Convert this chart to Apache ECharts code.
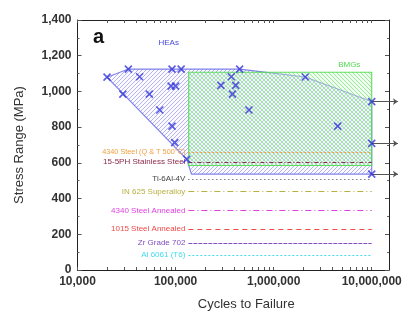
<!DOCTYPE html>
<html><head><meta charset="utf-8">
<script src="https://cdn.jsdelivr.net/npm/echarts@6/dist/echarts.min.js"></script>
<style>html,body{margin:0;padding:0;background:#fff}#c{width:411px;height:320px}</style>
</head><body><div id="c"></div>
<script>
// ---- data ----
const heaPoints = [
  [2.0e4,1080],[2.9e4,985],[3.3e4,1125],[4.3e4,1082],[5.4e4,985],[6.9e4,896],
  [9.2e4,1125],[1.14e5,1125],[9.0e4,1030],[1.0e5,1030],[9.2e4,806],[9.8e4,713],
  [1.3e5,620],[2.9e5,1034],[3.7e5,1082],[4.1e5,1034],[3.8e5,985],[4.5e5,1125],
  [5.6e5,896],[2.1e6,1081],[4.5e6,806],[1.0e7,943],[1.0e7,709],[1.0e7,537]
];
const heaRegion = [
  [2.0e4,1080],[3.3e4,1125],[4.5e5,1125],[2.1e6,1081],[1.0e7,943],
  [1.0e7,537],[1.45e5,537],[1.3e5,620]
];
const bmgRegion = [[1.36e5,585],[1.0e7,585],[1.0e7,1107],[1.36e5,1107]];
const runoutStress = [943,709,537];
const runoutFrom = 1.0e7;
const runoutTo = 1.85e7;
const heaLabel = ['HEAs', 8.5e4, 1275];
const bmgLabel = ['BMGs', 5.9e6, 1150];

const materialNames = [
  '4340 Steel (Q & T 500°C)','15-5PH Stainless Steel','Ti-6Al-4V','IN 625 Superalloy',
  '4340 Steel Annealed','1015 Steel Annealed','Zr Grade 702','Al 6061 (T6)'
];
const materialStress = [659,606,508,439,333,228,150,84];
const materialStart = [1.35e5,1.35e5,1.35e5,1.35e5,1.35e5,1.35e5,1.35e5,1.35e5];
const materialEnd = 1.0e7;
const materialColors = ['#f0a040','#8a2848','#444444','#b8b040','#e040e0','#f04848','#8050c0','#40dcef'];
const materialDash = [[2,2],[4,2,1,2],[1,3],[6,3,1,3],[6,3,1,3],[5,4],[4,1],[2,2]];

// tick values for the log axis (decades and their 2..9 multiples)
const decades = [1e4, 1e5, 1e6, 1e7];
const multiples = [1,2,3,4,5,6,7,8,9];

// ---- patterns ----
function hatch(stroke, bg, dir) {
  const s = 4, c = document.createElement('canvas');
  c.width = s; c.height = s;
  const g = c.getContext('2d');
  g.fillStyle = bg; g.fillRect(0,0,s,s);
  g.strokeStyle = stroke; g.lineWidth = 1;
  g.beginPath();
  if (dir > 0) {
    g.moveTo(0,s); g.lineTo(s,0);
    g.moveTo(-1,1); g.lineTo(1,-1);
    g.moveTo(s-1,s+1); g.lineTo(s+1,s-1);
  } else {
    g.moveTo(0,0); g.lineTo(s,s);
    g.moveTo(-1,s-1); g.lineTo(1,s+1);
    g.moveTo(s-1,-1); g.lineTo(s+1,1);
  }
  g.stroke();
  return {image: c, repeat: 'repeat'};
}
const bluePat = hatch('rgba(110,110,235,0.5)', 'rgba(240,240,255,0.3)', 1);
const greenPat = hatch('rgba(80,220,80,0.55)', 'rgba(215,250,215,0.35)', -1);

function polySeries(region, fill, stroke, lbl, lblColor, z) {
  return {
    type: 'custom', z: z, silent: true,
    data: region,
    renderItem: function (params, api) {
      if (params.dataIndex !== 0) return;
      const pts = region.map(p => api.coord(p));
      const lp = api.coord([lbl[1], lbl[2]]);
      return {type: 'group', children: [
        {type: 'polygon', shape: {points: pts}, style: {fill: fill, stroke: stroke, lineWidth: 1.1}},
        {type: 'text', x: lp[0], y: lp[1], style: {text: lbl[0], fill: lblColor, fontSize: 8,
          fontFamily: 'Liberation Sans, Arial', align: 'center', verticalAlign: 'middle'}}
      ]};
    }
  };
}

const tickValues = [];
decades.forEach(d => multiples.forEach(m => { if (d * m <= 1.5e7) tickValues.push(d * m); }));

const fmt = v => Math.round(v).toString().replace(/\B(?=(\d{3})+(?!\d))/g, ',');
const axisFont = {fontFamily: 'Liberation Sans, Arial', fontWeight: 'bold', fontSize: 12, color: '#333'};

const chart = echarts.init(document.getElementById('c'), null, {renderer: 'canvas'});
chart.setOption({
  animation: false,
  title: {text: 'a', left: 88, top: 22, textStyle: {fontSize: 20, fontWeight: 'bold', color: '#111', fontFamily: 'Liberation Sans, Arial'}},
  grid: {left: 77.5, right: 22, top: 20, bottom: 50},
  xAxis: [
    {type: 'log', logBase: 10, min: 1e4, max: 1.5e7, position: 'bottom',
     name: 'Cycles to Failure', nameLocation: 'middle', nameGap: 28,
     nameTextStyle: {fontSize: 13, color: '#333', fontFamily: 'Liberation Sans, Arial', padding: [0,0,0,26]},
     axisLine: {onZero: false, lineStyle: {color: '#222', width: 1}},
     axisTick: {inside: true, length: 3, customValues: tickValues, lineStyle: {color: '#555'}},
     splitLine: {show: false},
     axisLabel: Object.assign({formatter: fmt, margin: 6, showMaxLabel: false}, axisFont)},
    {type: 'log', logBase: 10, min: 1e4, max: 1.5e7, position: 'top',
     axisLine: {onZero: false, lineStyle: {color: '#222', width: 1}},
     axisTick: {inside: true, length: 3, customValues: tickValues, lineStyle: {color: '#555'}},
     splitLine: {show: false}, axisLabel: {show: false}}
  ],
  yAxis: [
    {type: 'value', min: 0, max: 1400, interval: 200, position: 'left',
     name: 'Stress Range (MPa)', nameLocation: 'middle', nameGap: 52,
     nameTextStyle: {fontSize: 13, color: '#333', fontFamily: 'Liberation Sans, Arial'},
     axisLine: {show: true, onZero: false, lineStyle: {color: '#222', width: 1}},
     axisTick: {inside: true, length: 4, lineStyle: {color: '#555'}},
     minorTick: {show: true, splitNumber: 2, length: 2, lineStyle: {color: '#666'}},
     splitLine: {show: false},
     axisLabel: Object.assign({formatter: fmt, margin: 6}, axisFont)},
    {type: 'value', min: 0, max: 1400, interval: 200, position: 'right',
     axisLine: {show: true, onZero: false, lineStyle: {color: '#222', width: 1}},
     axisTick: {inside: true, length: 4, lineStyle: {color: '#555'}},
     minorTick: {show: true, splitNumber: 2, length: 2, lineStyle: {color: '#666'}},
     splitLine: {show: false}, axisLabel: {show: false}}
  ],
  series: [
    {
      type: 'line', data: [], z: 0, silent: true,
      markLine: {
        silent: true, symbol: 'none', animation: false,
        data: materialNames.map((n, i) => [
          {coord: [materialStart[i], materialStress[i]], name: n,
           lineStyle: {color: materialColors[i], type: materialDash[i], width: 1},
           label: {color: materialColors[i], fontSize: i === 0 ? 7.3 : 8}},
          {coord: [materialEnd, materialStress[i]]}
        ]),
        label: {show: true, position: 'start', formatter: '{b}', fontSize: 8, distance: 3,
                fontFamily: 'Liberation Sans, Arial'}
      }
    },
    polySeries(heaRegion, bluePat, 'rgba(90,90,230,0.75)', heaLabel, '#4a4ae0', 1),
    polySeries(bmgRegion, greenPat, 'rgba(70,220,70,0.85)', bmgLabel, '#50d850', 2),
    {
      type: 'lines', coordinateSystem: 'cartesian2d', z: 4, clip: false, silent: true,
      symbol: ['none', 'arrow'], symbolSize: 5,
      lineStyle: {color: '#555', width: 1, opacity: 1},
      data: runoutStress.map(s => ({coords: [[runoutFrom, s], [runoutTo, s]]}))
    },
    {
      type: 'scatter', z: 5, silent: true, data: heaPoints,
      symbol: 'path://M0 0L10 10M10 0L0 10', symbolSize: 7,
      itemStyle: {color: 'rgba(0,0,0,0)', borderColor: '#3434d8', borderWidth: 1.6}
    }
  ]
});
</script>
</body></html>
